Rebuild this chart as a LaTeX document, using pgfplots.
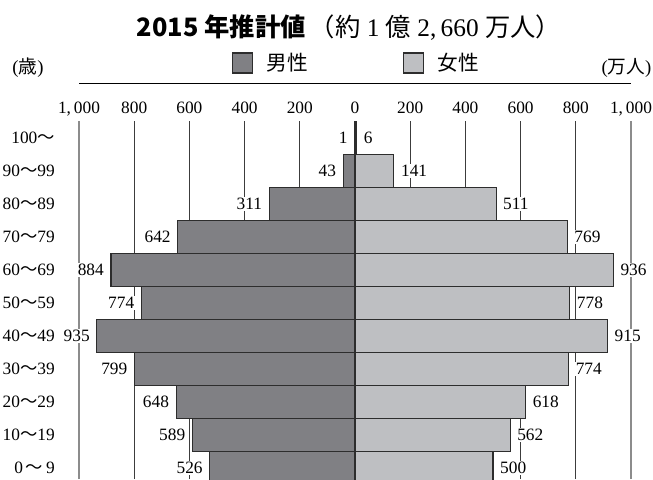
\documentclass[border=0pt]{standalone}
\usepackage{fontspec}
\setmainfont{Liberation Serif}
\newfontfamily\cjk{Noto Sans CJK JP}
\usepackage{pgfplots}
\usepackage{pgfplotstable}
\pgfplotsset{compat=1.18}
\definecolor{malec}{RGB}{128,128,132}
\definecolor{femalec}{RGB}{190,191,194}
\definecolor{edgec}{RGB}{45,45,45}
\definecolor{gridc}{RGB}{60,60,60}
\definecolor{gridg}{RGB}{140,140,140}

\pgfplotstableread{
y x m
10 -1 1
9 -43 43
8 -311 311
7 -642 642
6 -884 884
5 -774 774
4 -935 935
3 -799 799
2 -648 648
1 -589 589
0 -526 526
}\maletab

\pgfplotstableread{
y x m
10 6 6
9 141 141
8 511 511
7 769 769
6 936 936
5 778 778
4 915 915
3 774 774
2 618 618
1 562 562
0 500 500
}\femaletab

\newcommand{\numfont}{\fontsize{13}{15}\selectfont}

\begin{document}
\begin{tikzpicture}
\useasboundingbox (0,0) rectangle (489.75pt,359.25pt);
\begin{axis}[
  at={(59.25pt,0pt)}, anchor=south west,
  scale only axis, width=414pt, height=268.5pt,
  xmin=-1000, xmax=1000, ymin=-0.333, ymax=10.515,
  axis line style={draw=none},
  major tick length=0pt,
  /pgf/number format/assume math mode=true,
  xbar, bar width=1, bar shift=0pt,
  xtick={-800,-600,-400,-200,0,200,400,600,800},
  xticklabels={800,600,400,200,0,200,400,600,800},
  extra x ticks={-1000,1000},
  extra x tick labels={{1,\,000},{1,\,000}},
  extra x tick style={major grid style={color=gridg, line width=1.3pt}},
  xmajorgrids,
  major grid style={color=gridc, line width=0.6pt},
  xticklabel pos=upper,
  xticklabel style={anchor=base, yshift=5.5pt, font=\numfont},
  ytick={0,1,2,3,4,5,6,7,8,9,10},
  yticklabels={{0\,{\cjk 〜}\,9},{10{\cjk 〜}19},{20{\cjk 〜}29},{30{\cjk 〜}39},{40{\cjk 〜}49},{50{\cjk 〜}59},{60{\cjk 〜}69},{70{\cjk 〜}79},{80{\cjk 〜}89},{90{\cjk 〜}99},{100{\cjk 〜}}},
  yticklabel style={anchor=base east, inner sep=0pt, xshift=-18pt, yshift=-4.3pt, font=\numfont},
  point meta=explicit,
  nodes near coords={\numfont\pgfmathprintnumber[fixed,precision=0,assume math mode=true]{\pgfplotspointmeta}},
  every node near coord/.append style={fill=white, inner sep=1pt, font=\numfont},
  legend image code/.code={\draw[#1, draw=edgec, line width=0.8pt] (0pt,-7.5pt) rectangle (15pt,7.5pt);},
  legend columns=2,
  legend style={at={(0.503,1.162)}, anchor=center, draw=none, fill=none,
    font=\cjk\fontsize{15.5}{17}\selectfont,
    /tikz/every odd column/.append style={column sep=8.5pt},
    /tikz/every even column/.append style={column sep=69pt}},
]
\addplot[fill=malec, draw=edgec, line width=0.8pt,
  every node near coord/.append style={anchor=east, xshift=-4pt}]
  table[x=x, y=y, meta=m] {\maletab};
\addlegendentry{男性}
\addplot[fill=femalec, draw=edgec, line width=0.8pt,
  every node near coord/.append style={anchor=west, xshift=4pt}]
  table[x=x, y=y, meta=m] {\femaletab};
\addlegendentry{女性}
\end{axis}
\draw[black, line width=0.75pt] (59.25pt,296.25pt) -- (473.25pt,296.25pt);
\node at (261.75pt,338.5pt) {{\cjk\bfseries\fontsize{19}{21}\selectfont 2015 年推計値}{\fontsize{19}{21}\selectfont\hspace{3pt}{\cjk （約}\ 1\ {\cjk 億}\ 2,\,660\ {\cjk 万人）}}};
\node at (21pt,308.25pt) {\fontsize{14}{16}\selectfont({\cjk 歳})};
\node at (469.9pt,308.25pt) {\fontsize{14}{16}\selectfont({\cjk 万人})};
\end{tikzpicture}
\end{document}
